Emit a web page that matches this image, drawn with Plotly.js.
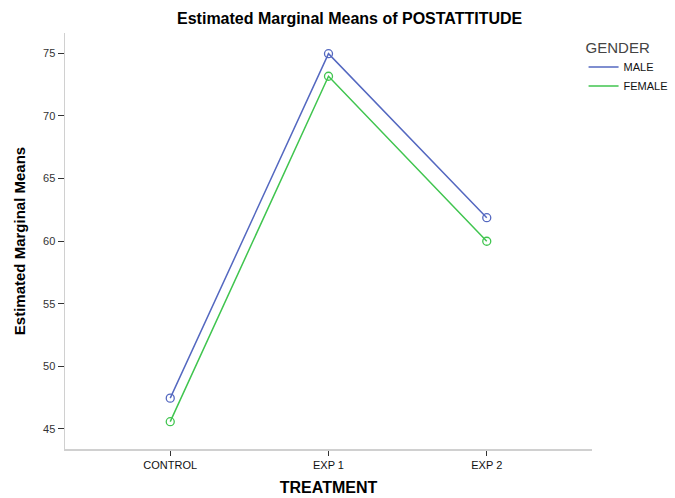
<!DOCTYPE html>
<html>
<head>
<meta charset="utf-8">
<script src="https://cdn.plot.ly/plotly-3.0.1.min.js"></script>
<style>html,body{margin:0;padding:0;background:#fff;}#chart{width:675px;height:498px;}</style>
</head>
<body>
<div id="chart"></div>
<script>
const categories = ["CONTROL", "EXP 1", "EXP 2"];
const maleValues = [47.46, 74.95, 61.86];
const femaleValues = [45.58, 73.15, 59.98];
const yTickValues = [45, 50, 55, 60, 65, 70, 75];
const seriesNames = ["MALE", "FEMALE"];
const seriesColors = ["#5468c0", "#40c54f"];

const catIdx = categories.map((c, i) => i);
const allValues = [maleValues, femaleValues];

const traces = [];
allValues.forEach((vals, k) => {
  traces.push({
    x: catIdx, y: vals, name: seriesNames[k], type: "scatter", mode: "lines+markers",
    showlegend: false, legendgroup: seriesNames[k],
    line: {color: seriesColors[k], width: 1.5},
    marker: {symbol: "circle-open", size: 8, color: seriesColors[k], line: {width: 1.3}}
  });
});
allValues.forEach((vals, k) => {
  traces.push({
    x: [null], y: [null], name: seriesNames[k], type: "scatter", mode: "lines",
    showlegend: true, legendgroup: seriesNames[k],
    line: {color: seriesColors[k], width: 1.5}
  });
});

const layout = {
  width: 675, height: 498,
  paper_bgcolor: "#fff", plot_bgcolor: "#fff",
  margin: {l: 65, r: 83, t: 33, b: 49, autoexpand: false},
  font: {family: "Liberation Sans, Arial, sans-serif", color: "#222", size: 12},
  title: {
    text: "<b>Estimated Marginal Means of POSTATTITUDE</b>",
    font: {size: 16, color: "#000", family: "Liberation Sans, Arial, sans-serif"},
    x: 0.518, xanchor: "center", y: 0.963, yanchor: "middle"
  },
  xaxis: {
    range: [-0.665, 2.665],
    tickvals: catIdx, ticktext: categories,
    ticks: "outside", ticklen: 5, tickcolor: "#333", tickwidth: 1,
    showline: true, linecolor: "#d0d0d0", linewidth: 1.5,
    showgrid: false, zeroline: false,
    tickfont: {size: 11, color: "#111"},
    title: {text: "<b>TREATMENT</b>", font: {size: 16, color: "#000"}, standoff: 12}
  },
  yaxis: {
    range: [43.4, 76.6],
    tickvals: yTickValues,
    ticks: "outside", ticklen: 6, tickcolor: "#333", tickwidth: 1,
    showline: true, linecolor: "#d0d0d0", linewidth: 1.5,
    showgrid: false, zeroline: false,
    tickfont: {size: 11, color: "#333"},
    title: {text: "<b>Estimated Marginal Means</b>", font: {size: 15, color: "#000", family: "Liberation Sans Narrow, Arial Narrow, Liberation Sans, sans-serif"}, standoff: 14}
  },
  showlegend: true,
  legend: {
    x: 0.984, xanchor: "left", y: 1.0, yanchor: "top",
    bgcolor: "rgba(0,0,0,0)",
    font: {size: 11, color: "#111"},
    title: {text: "GENDER", font: {size: 15, color: "#444"}},
    itemwidth: 30, tracegroupgap: 0
  }
};

Plotly.newPlot("chart", traces, layout, {displayModeBar: false, staticPlot: true});
</script>
</body>
</html>
